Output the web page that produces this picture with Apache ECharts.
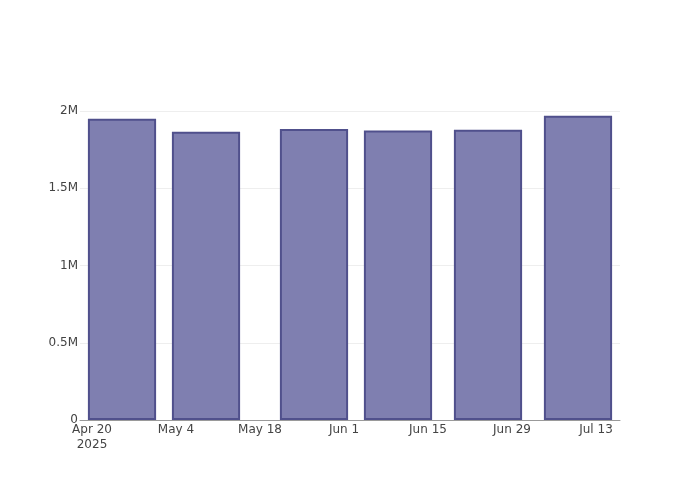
<!DOCTYPE html>
<html>
<head>
<meta charset="utf-8">
<script src="https://cdn.jsdelivr.net/npm/echarts@6/dist/echarts.min.js"></script>
<style>html,body{margin:0;padding:0;background:#fff}#c{width:700px;height:500px}</style>
</head>
<body>
<div id="c"></div>
<script>
const dates = ['2025-04-25','2025-05-09','2025-05-27','2025-06-10','2025-06-25','2025-07-10'];
const values = [1950000, 1866000, 1884000, 1873000, 1879000, 1970000];
const tickOffsets = [0, 14, 28, 42, 56, 70, 84];
const tickLabels = ['Apr 20\n2025', 'May 4', 'May 18', 'Jun 1', 'Jun 15', 'Jun 29', 'Jul 13'];
const yTicks = [0, 500000, 1000000, 1500000, 2000000];
const yLabels = ['0', '0.5M', '1M', '1.5M', '2M'];

const origin = Date.UTC(2025, 3, 20);
const DAY = 86400000;
const offs = dates.map(d => (Date.parse(d + 'T00:00:00Z') - origin) / DAY);
const xMin = -2, xMax = 88;
const gridLeft = 80, gridRight = 80, gridW = 700 - gridLeft - gridRight;
const barDays = 11.2;
const borderW = 2;
const barW = gridW / (xMax - xMin) * barDays + borderW / 2;

const chart = echarts.init(document.getElementById('c'), null, {renderer: 'canvas'});
chart.setOption({
  animation: false,
  textStyle: {fontFamily: 'DejaVu Sans'},
  grid: {left: gridLeft, right: gridRight, top: 111, bottom: 80},
  xAxis: {
    type: 'value', min: xMin, max: xMax,
    splitLine: {show: false},
    axisTick: {show: false},
    axisLine: {show: true, lineStyle: {color: '#9a9a9a', width: 1}},
    axisLabel: {
      customValues: tickOffsets,
      color: '#444', fontSize: 12, margin: 2, lineHeight: 15,
      formatter: v => tickLabels[tickOffsets.indexOf(Math.round(v))] || ''
    }
  },
  yAxis: {
    type: 'value', min: 0, max: 2000000, interval: 500000,
    axisLine: {show: false}, axisTick: {show: false},
    splitLine: {show: true, lineStyle: {color: '#eeeeee', width: 1}},
    axisLabel: {
      color: '#444', fontSize: 12, margin: 2, padding: [4, 0, 0, 0],
      formatter: v => yLabels[yTicks.indexOf(v)]
    }
  },
  series: [{
    type: 'bar',
    data: offs.map((o, i) => [o, values[i]]),
    barWidth: barW,
    itemStyle: {color: '#7f7fb0', borderColor: '#50508c', borderWidth: borderW}
  }]
});
</script>
</body>
</html>
